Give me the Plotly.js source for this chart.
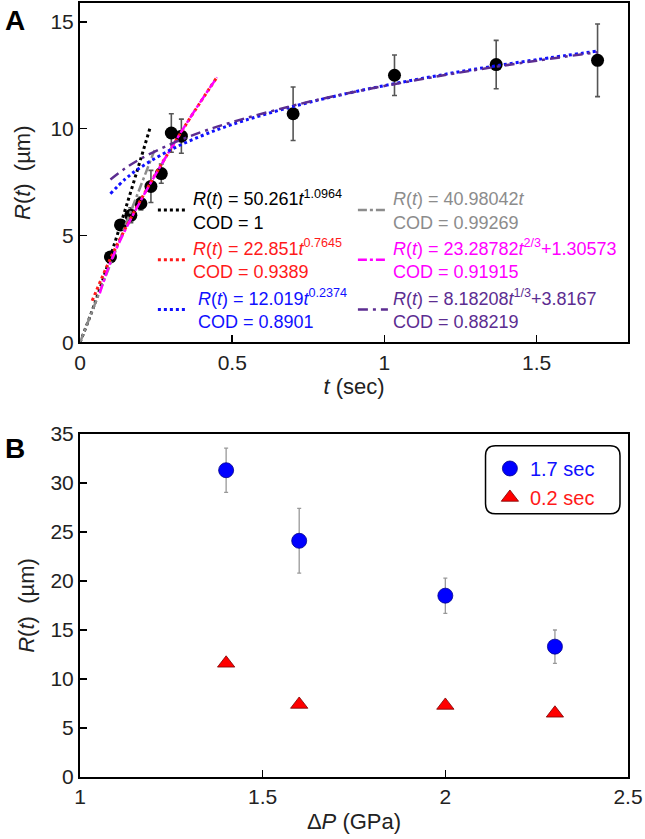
<!DOCTYPE html>
<html>
<head>
<meta charset="utf-8">
<script src="https://cdn.plot.ly/plotly-3.0.1.min.js"></script>
<style>html,body{margin:0;padding:0;background:#fff;}#chart{width:645px;height:839px;}</style>
</head>
<body>
<div id="chart"></div>
<script>
// ---------- Panel A data ----------
const tA   = [0.1, 0.133, 0.167, 0.2, 0.233, 0.267, 0.3, 0.333, 0.7, 1.033, 1.367, 1.7];
const rA   = [4.0, 5.5, 5.95, 6.5, 7.3, 7.9, 9.8, 9.65, 10.7, 12.5, 13.0, 13.2];
const errA = [0.15, 0.2, 0.35, 0.3, 0.75, 0.45, 0.9, 0.8, 1.25, 0.95, 1.13, 1.7];

const fitBlackT = [0, 0.05, 0.1, 0.15, 0.2, 0.232];
const fitBlackR = [0, 1.88, 4.03, 6.28, 8.61, 10.13];
const fitGrayT  = [0, 0.245];
const fitGrayR  = [0, 9.0];
const fitRedT   = [0.04, 0.1, 0.15, 0.2, 0.25, 0.3, 0.35, 0.4, 0.45];
const fitRedR   = [1.95, 3.93, 5.36, 6.68, 7.92, 9.10, 10.24, 11.34, 12.41];
const fitMagT   = [0.065, 0.1, 0.15, 0.2, 0.25, 0.3, 0.35, 0.4, 0.45];
const fitMagR   = [2.3, 3.75, 5.3, 6.65, 7.9, 9.1, 10.25, 11.35, 12.4];
const fitBlueT  = [0.1, 0.15, 0.2, 0.3, 0.4, 0.5, 0.7, 0.9, 1.1, 1.3, 1.5, 1.7];
const fitBlueR  = [6.96, 7.66, 8.20, 9.03, 9.67, 10.20, 11.04, 11.72, 12.29, 12.79, 13.23, 13.63];
const fitPurpT  = [0.1, 0.15, 0.2, 0.3, 0.4, 0.5, 0.7, 0.9, 1.1, 1.3, 1.5, 1.7];
const fitPurpR  = [7.62, 8.16, 8.60, 9.29, 9.85, 10.31, 11.08, 11.72, 12.26, 12.75, 13.18, 13.58];

const fitLabels = [
  ['<i>R</i>(<i>t</i>) = 50.261<i>t</i><sup>1.0964</sup>', 'COD = 1'],
  ['<i>R</i>(<i>t</i>) = 40.98042<i>t</i>', 'COD = 0.99269'],
  ['<i>R</i>(<i>t</i>) = 22.851<i>t</i><sup>0.7645</sup>', 'COD = 0.9389'],
  ['<i>R</i>(<i>t</i>) = 23.28782<i>t</i><sup>2/3</sup>+1.30573', 'COD = 0.91915'],
  ['&nbsp;<i>R</i>(<i>t</i>) = 12.019<i>t</i><sup>0.2374</sup>', '&nbsp;COD = 0.8901'],
  ['<i>R</i>(<i>t</i>) = 8.18208<i>t</i><sup>1/3</sup>+3.8167', 'COD = 0.88219']
];

// ---------- Panel B data ----------
const dP    = [1.4, 1.6, 2.0, 2.3];
const r17   = [31.3, 24.1, 18.5, 13.3];
const err17 = [2.25, 3.3, 1.8, 1.7];
const r02   = [11.6, 7.4, 7.3, 6.5];
const seriesBNames = ['1.7 sec', '0.2 sec'];

// ---------- styling ----------
const FONT = '"Liberation Sans", Arial, sans-serif';
const C = {black:'#000000', gray:'#8c8c8c', red:'#ff1a1a', magenta:'#ff00ff', blue:'#1010ff', purple:'#5c2d91'};

function lab(i, color){
  return '<span style="color:' + color + '">' + fitLabels[i][0] + '<br>' + fitLabels[i][1] + '</span>';
}
function fit(x, y, i, color, dash, w, lg){
  return {x:x, y:y, mode:'lines', type:'scatter', xaxis:'x', yaxis:'y',
    line:{color:color, dash:dash, width:w, shape:'spline'}, name:lab(i, color), legend:lg};
}

const traces = [
  {x:tA, y:rA, type:'scatter', mode:'markers', xaxis:'x', yaxis:'y', showlegend:false,
   marker:{color:'#000', size:13},
   error_y:{type:'data', array:errA, visible:true, color:'#555', thickness:1.6, width:2.5}},
  fit(fitBlackT, fitBlackR, 0, C.black, 'dot', 3, 'legend'),
  fit(fitGrayT, fitGrayR, 1, C.gray, 'dashdot', 2.5, 'legend3'),
  fit(fitRedT, fitRedR, 2, C.red, 'dot', 3, 'legend'),
  fit(fitMagT, fitMagR, 3, C.magenta, 'dashdot', 2.5, 'legend3'),
  fit(fitBlueT, fitBlueR, 4, C.blue, 'dot', 3, 'legend'),
  fit(fitPurpT, fitPurpR, 5, C.purple, '10px,5px,3px,5px', 2.5, 'legend3'),
  {x:dP, y:r17, type:'scatter', mode:'markers', xaxis:'x2', yaxis:'y2', legend:'legend2', legendgroup:'a',
   name:'<span style="color:#1010ff">' + seriesBNames[0] + '</span>',
   marker:{color:'#0000ff', size:15, symbol:'circle', line:{color:'#00008b', width:0.8}},
   error_y:{type:'data', array:err17, visible:true, color:'#999', thickness:1.3, width:2}},
  {x:dP, y:r02, type:'scatter', mode:'markers', xaxis:'x2', yaxis:'y2', legend:'legend2', legendgroup:'b',
   name:'<span style="color:#ff1a1a">' + seriesBNames[1] + '</span>',
   marker:{color:'#ff0000', size:15, symbol:'triangle-up', line:{color:'#7a0000', width:0.8}}}
];

const axBase = {showline:true, linewidth:2, linecolor:'#000', mirror:true, ticks:'inside', ticklen:7,
  tickwidth:1.5, tickcolor:'#000', showgrid:false, zeroline:false,
  tickfont:{size:21, family:FONT, color:'#222'}};

// rounded legend box for panel B (paper coords)
function roundBox(x0, x1, y0, y1, rx, ry){
  return 'M' + (x0+rx) + ',' + y1 + ' L' + (x1-rx) + ',' + y1 + ' Q' + x1 + ',' + y1 + ' ' + x1 + ',' + (y1-ry) +
    ' L' + x1 + ',' + (y0+ry) + ' Q' + x1 + ',' + y0 + ' ' + (x1-rx) + ',' + y0 +
    ' L' + (x0+rx) + ',' + y0 + ' Q' + x0 + ',' + y0 + ' ' + x0 + ',' + (y0+ry) +
    ' L' + x0 + ',' + (y1-ry) + ' Q' + x0 + ',' + y1 + ' ' + (x0+rx) + ',' + y1 + ' Z';
}

const legA = {xanchor:'left', y:0.7713, yanchor:'top', font:{size:18, family:FONT},
  bgcolor:'rgba(0,0,0,0)', traceorder:'normal', itemclick:false, tracegroupgap:0};

const layout = {
  width:645, height:839,
  margin:{l:80, r:17, t:3, b:62},
  paper_bgcolor:'#fff', plot_bgcolor:'#fff',
  font:{family:FONT, color:'#000'},
  showlegend:true,
  xaxis: Object.assign({}, axBase, {domain:[0,1], anchor:'y', range:[0,1.8], tickvals:[0,0.5,1,1.5],
    title:{text:'<i>t</i> (sec)', font:{size:22, family:FONT, color:'#222'}, standoff:4}}),
  yaxis: Object.assign({}, axBase, {domain:[0.5614,1], anchor:'x', range:[0,15.88], tickvals:[0,5,10,15],
    title:{text:'<i>R</i>(<i>t</i>)&nbsp;&nbsp;(µm)', font:{size:22, family:FONT, color:'#222'}, standoff:14}}),
  xaxis2: Object.assign({}, axBase, {domain:[0,1], anchor:'y2', range:[1,2.5], tickvals:[1,1.5,2,2.5],
    title:{text:'Δ<i>P</i> (GPa)', font:{size:22, family:FONT, color:'#222'}, standoff:6}}),
  yaxis2: Object.assign({}, axBase, {domain:[0,0.4432], anchor:'x2', range:[0,35], tickvals:[0,5,10,15,20,25,30,35],
    title:{text:'<i>R</i>(<i>t</i>)&nbsp;&nbsp;(µm)', font:{size:22, family:FONT, color:'#222'}, standoff:10}}),
  legend: Object.assign({}, legA, {x:0.133}),
  legend3: Object.assign({}, legA, {x:0.498}),
  legend2:{x:0.748, xanchor:'left', y:0.4238, yanchor:'top', font:{size:20, family:FONT},
    bgcolor:'rgba(0,0,0,0)', tracegroupgap:4, traceorder:'normal'},
  shapes:[{type:'path', xref:'paper', yref:'paper', path:roundBox(0.740, 0.9854, 0.340, 0.428, 0.0182, 0.0129),
    line:{color:'#000', width:1.5}, fillcolor:'rgba(0,0,0,0)'}],
  annotations:[
    {text:'<b>A</b>', xref:'paper', yref:'paper', x:-0.1186, y:0.978, xanchor:'center', yanchor:'middle',
     showarrow:false, font:{size:28, family:FONT, color:'#000'}},
    {text:'<b>B</b>', xref:'paper', yref:'paper', x:-0.1186, y:0.4238, xanchor:'center', yanchor:'middle',
     showarrow:false, font:{size:28, family:FONT, color:'#000'}}
  ]
};

Plotly.newPlot('chart', traces, layout, {staticPlot:true, displayModeBar:false});
</script>
</body>
</html>
